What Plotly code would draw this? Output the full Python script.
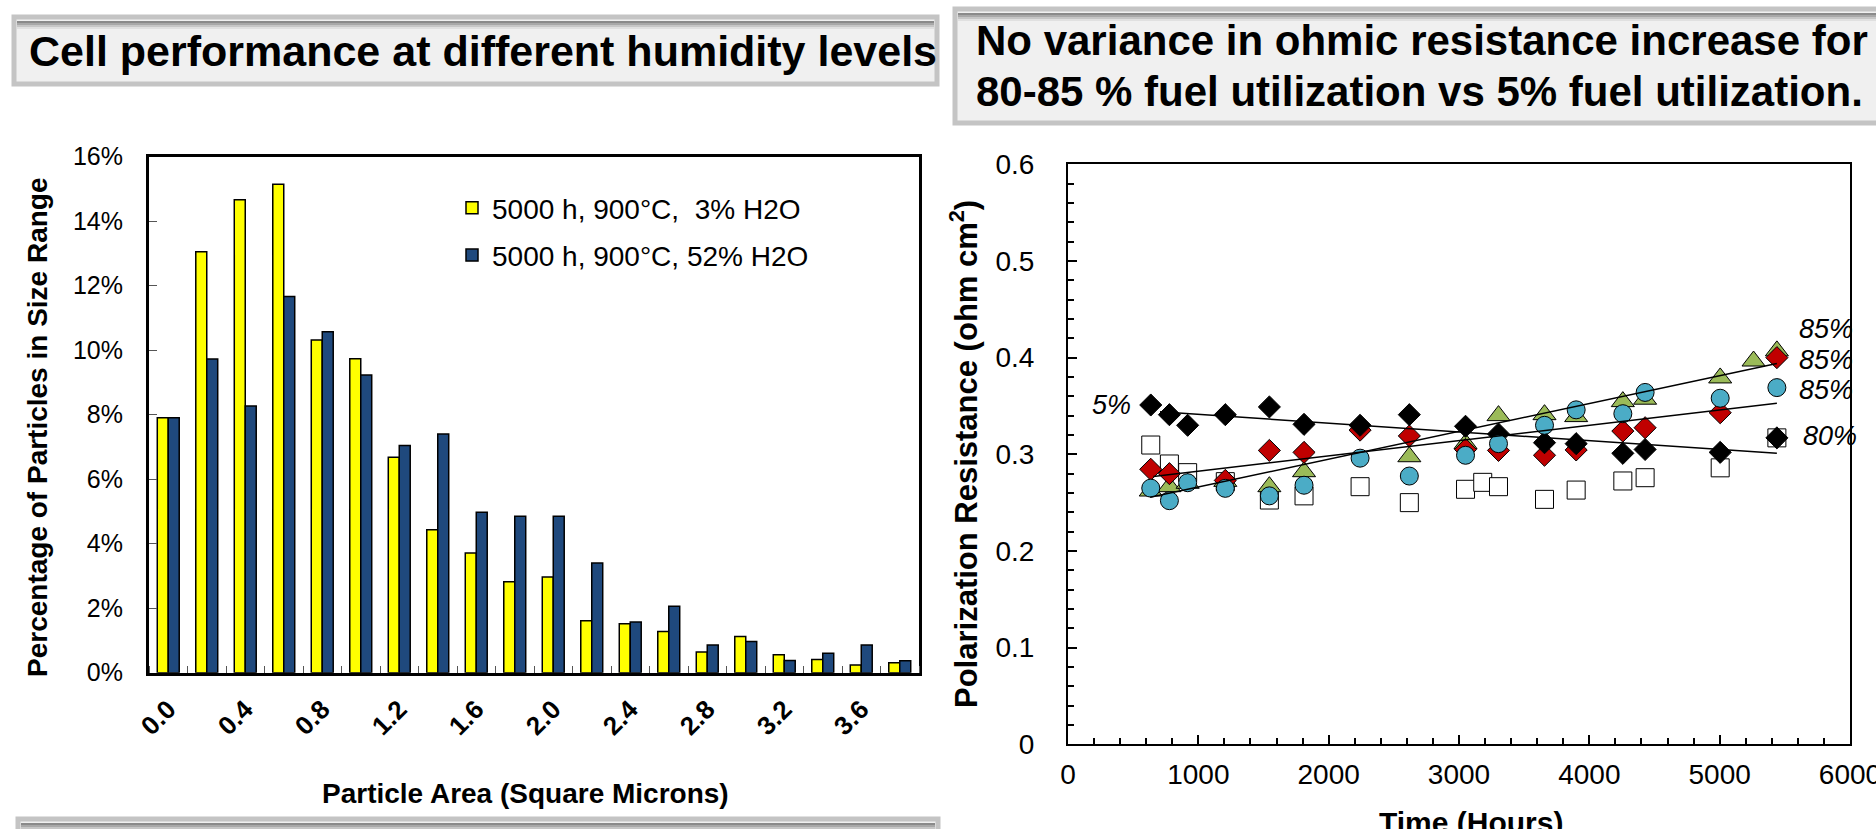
import plotly.graph_objects as go

W, H = 1876, 829
FONT = "Liberation Sans, Arial, Helvetica, sans-serif"

# ---------------- Left chart data (particle size distribution) ----------------
particle_area = [0.0, 0.2, 0.4, 0.6, 0.8, 1.0, 1.2, 1.4, 1.6, 1.8,
                 2.0, 2.2, 2.4, 2.6, 2.8, 3.0, 3.2, 3.4, 3.6, 3.8]
pct_3_h2o = [7.90, 13.05, 14.66, 15.14, 10.31, 9.73, 6.68, 4.43, 3.71, 2.82,
             2.97, 1.61, 1.52, 1.28, 0.64, 1.12, 0.56, 0.41, 0.24, 0.31]
pct_52_h2o = [7.90, 9.72, 8.27, 11.66, 10.57, 9.23, 7.04, 7.40, 4.97, 4.85,
              4.85, 3.40, 1.57, 2.06, 0.86, 0.97, 0.38, 0.60, 0.86, 0.37]
bar_tick_vals = [0.0, 0.4, 0.8, 1.2, 1.6, 2.0, 2.4, 2.8, 3.2, 3.6]
bar_tick_text = ["0.0", "0.4", "0.8", "1.2", "1.6", "2.0", "2.4", "2.8", "3.2", "3.6"]
bar_series_names = ["5000 h, 900°C,  3% H2O", "5000 h, 900°C, 52% H2O"]

# ---------------- Right chart data (polarization resistance vs time) ----------------
t_5pct = [635, 778, 918, 1207, 1545, 1811, 2241, 2619, 3050, 3303, 3656, 3899, 4257, 4428, 5004, 5439]
r_5pct = [0.351, 0.341, 0.330, 0.341, 0.349, 0.331, 0.330, 0.341, 0.329, 0.321, 0.312, 0.311, 0.301, 0.305, 0.302, 0.317]

t_85_red = [635, 778, 1207, 1545, 1811, 2241, 2619, 3050, 3303, 3656, 3899, 4257, 4428, 5004, 5439]
r_85_red = [0.2845, 0.280, 0.273, 0.304, 0.302, 0.325, 0.319, 0.305, 0.304, 0.299, 0.3045, 0.324, 0.3275, 0.343, 0.400]

t_85_green = [635, 778, 918, 1207, 1545, 1811, 2619, 3050, 3303, 3656, 3899, 4257, 4428, 5004, 5260, 5439]
r_85_green = [0.262, 0.2665, 0.270, 0.272, 0.2665, 0.282, 0.2975, 0.311, 0.340, 0.341, 0.339, 0.3545, 0.357, 0.379, 0.3965, 0.407]

t_85_cyan = [635, 778, 918, 1207, 1545, 1811, 2241, 2619, 3050, 3303, 3656, 3899, 4257, 4428, 5004, 5439]
r_85_cyan = [0.265, 0.252, 0.2706, 0.2648, 0.257, 0.268, 0.296, 0.2775, 0.299, 0.311, 0.330, 0.346, 0.342, 0.364, 0.358, 0.369]

t_80_sq = [635, 778, 918, 1207, 1545, 1811, 2241, 2619, 3050, 3182, 3303, 3656, 3899, 4257, 4428, 5004, 5439]
r_80_sq = [0.3096, 0.290, 0.281, 0.2717, 0.2527, 0.257, 0.2665, 0.250, 0.2638, 0.271, 0.2665, 0.2534, 0.263, 0.2724, 0.2758, 0.286, 0.317]

trend_5pct_t = [706, 5439]
trend_5pct_r = [0.344, 0.301]
trend_85a_t = [630, 5439]
trend_85a_r = [0.2555, 0.394]
trend_85b_t = [655, 5439]
trend_85b_r = [0.277, 0.3527]

series_label_text = ["5%", "85%", "85%", "85%", "80%"]
series_label_t = [501, 5592, 5592, 5592, 5623]
series_label_r = [0.351, 0.430, 0.3975, 0.3665, 0.319]
series_label_anchor = ["right", "left", "left", "left", "left"]


def fx(p):
    return p / W


def fy(p):
    return 1 - p / H


fig = go.Figure()

# ---- bars ----
fig.add_trace(go.Bar(x=particle_area, y=pct_3_h2o, name=bar_series_names[0],
                     marker=dict(color="#FFFF00", line=dict(color="#000000", width=1.5)),
                     xaxis="x", yaxis="y", legend="legend", legendgroup="a"))
fig.add_trace(go.Bar(x=particle_area, y=pct_52_h2o, name=bar_series_names[1],
                     marker=dict(color="#1F497D", line=dict(color="#000000", width=1.5)),
                     xaxis="x", yaxis="y", legend="legend", legendgroup="b"))

# ---- scatter markers (bottom to top) ----
mk_line = dict(color="#000000", width=1)
fig.add_trace(go.Scatter(x=t_80_sq, y=r_80_sq, mode="markers", showlegend=False,
                         marker=dict(symbol="square", size=18, color="#FFFFFF", line=mk_line),
                         xaxis="x2", yaxis="y2"))
fig.add_trace(go.Scatter(x=t_85_green, y=r_85_green, mode="markers", showlegend=False,
                         marker=dict(symbol="triangle-up", size=20, color="#9BBB59", line=mk_line),
                         xaxis="x2", yaxis="y2"))
fig.add_trace(go.Scatter(x=t_85_red, y=r_85_red, mode="markers", showlegend=False,
                         marker=dict(symbol="diamond", size=17, color="#C00000", line=mk_line),
                         xaxis="x2", yaxis="y2"))
fig.add_trace(go.Scatter(x=t_5pct, y=r_5pct, mode="markers", showlegend=False,
                         marker=dict(symbol="diamond", size=17, color="#000000", line=mk_line),
                         xaxis="x2", yaxis="y2"))
fig.add_trace(go.Scatter(x=t_85_cyan, y=r_85_cyan, mode="markers", showlegend=False,
                         marker=dict(symbol="circle", size=18, color="#4BACC6", line=mk_line),
                         xaxis="x2", yaxis="y2"))

# ---- trend lines ----
for tt, rr in [(trend_5pct_t, trend_5pct_r), (trend_85a_t, trend_85a_r), (trend_85b_t, trend_85b_r)]:
    fig.add_trace(go.Scatter(x=tt, y=rr, mode="lines", showlegend=False,
                             line=dict(color="#000000", width=1.5),
                             xaxis="x2", yaxis="y2"))

# ---- series labels on right chart ----
for txt, t, r, anc in zip(series_label_text, series_label_t, series_label_r, series_label_anchor):
    fig.add_annotation(x=t, y=r, xref="x2", yref="y2", text="<i>" + txt + "</i>",
                       showarrow=False, xanchor=anc, yanchor="middle", align=anc,
                       font=dict(family=FONT, size=27, color="#000000"))

# ---- title boxes ----
shapes = []


def title_box(x0, y0, x1, y1):
    shapes.append(dict(type="rect", xref="paper", yref="paper",
                       x0=fx(x0), x1=fx(x1), y0=fy(y1), y1=fy(y0),
                       fillcolor="#F0F0F0", line=dict(color="#C4C4C4", width=5), layer="below"))
    # top inner shadow
    for i, col in enumerate(["#8A8A8A", "#A8A8A8", "#C6C6C6", "#E0E0E0"]):
        shapes.append(dict(type="rect", xref="paper", yref="paper",
                           x0=fx(x0 + 3), x1=fx(x1 - 3), y0=fy(y0 + 4 + 2 * (i + 1)), y1=fy(y0 + 4 + 2 * i),
                           fillcolor=col, line=dict(width=0), layer="below"))


title_box(14, 17, 937, 84)
title_box(955, 9, 1900, 123)
title_box(18, 819, 938, 860)

fig.update_layout(shapes=shapes)

fig.add_annotation(x=fx(27), y=fy(50.8), xref="paper", yref="paper", xanchor="left", yanchor="middle",
                   align="left", text="<b>Cell performance at different humidity levels</b>", showarrow=False,
                   font=dict(family=FONT, size=43, color="#000000"))
fig.add_annotation(x=fx(974), y=fy(40.1), xref="paper", yref="paper", xanchor="left", yanchor="middle",
                   align="left", text="<b>No variance in ohmic resistance increase for</b>", showarrow=False,
                   font=dict(family=FONT, size=42, color="#000000"))
fig.add_annotation(x=fx(974), y=fy(91.8), xref="paper", yref="paper", xanchor="left", yanchor="middle",
                   align="left", text="<b>80-85 % fuel utilization vs 5% fuel utilization.</b>", showarrow=False,
                   font=dict(family=FONT, size=42, color="#000000"))

# axis titles as annotations
fig.add_annotation(x=fx(525), y=fy(793.3), xref="paper", yref="paper", xanchor="center", yanchor="middle",
                   text="<b>Particle Area (Square Microns)</b>", showarrow=False,
                   font=dict(family=FONT, size=28, color="#000000"))
fig.add_annotation(x=fx(37), y=fy(427), xref="paper", yref="paper", xanchor="center", yanchor="middle",
                   text="<b>Percentage of Particles in Size Range</b>", showarrow=False, textangle=-90,
                   font=dict(family=FONT, size=28, color="#000000"))
fig.add_annotation(x=fx(964), y=fy(454), xref="paper", yref="paper", xanchor="center", yanchor="middle",
                   text="<b>Polarization Resistance (ohm cm<sup>2</sup>)</b>", showarrow=False, textangle=-90,
                   font=dict(family=FONT, size=31, color="#000000"))
fig.add_annotation(x=fx(1471), y=fy(822.8), xref="paper", yref="paper", xanchor="center", yanchor="middle",
                   text="<b>Time (Hours)</b>", showarrow=False,
                   font=dict(family=FONT, size=30, color="#000000"))

fig.update_layout(
    width=W, height=H,
    margin=dict(l=0, r=0, t=0, b=0, pad=0, autoexpand=False),
    paper_bgcolor="#FFFFFF", plot_bgcolor="#FFFFFF",
    font=dict(family=FONT, color="#000000"),
    barmode="group", bargap=0.43, bargroupgap=0.0,
    xaxis=dict(domain=[fx(149), fx(919)], range=[-0.1, 3.9], anchor="y", automargin=False,
               tickmode="array", tickvals=bar_tick_vals, ticktext=bar_tick_text,
               tickangle=-45, tickfont=dict(family=FONT, size=26, weight="bold"),
               ticks="", showline=True, linecolor="#000000", linewidth=3, mirror=True,
               showgrid=False, zeroline=False, ticklabelstandoff=8,
               minor=dict(tickmode="linear", tick0=0.1, dtick=0.2, ticks="inside", ticklen=7,
                          tickwidth=1, tickcolor="#555555", showgrid=False)),
    yaxis=dict(domain=[fy(672.7), fy(156.5)], range=[0, 16], anchor="x", dtick=2, ticksuffix="%",
               automargin=False,
               tickfont=dict(family=FONT, size=25), ticks="inside", ticklen=8, tickwidth=1,
               tickcolor="#555555", showline=True, linecolor="#000000", linewidth=3, mirror=True,
               showgrid=False, zeroline=False, ticklabelstandoff=18),
    xaxis2=dict(domain=[fx(1068), fx(1850)], range=[0, 6000], anchor="y2", dtick=1000, automargin=False,
                tickfont=dict(family=FONT, size=28), ticks="inside", ticklen=9, tickwidth=1.5,
                tickcolor="#000000", showline=True, linecolor="#000000", linewidth=2, mirror=True,
                showgrid=False, zeroline=False, ticklabelstandoff=4, ticklabeloverflow="allow",
                minor=dict(dtick=200, ticks="inside", ticklen=6, tickwidth=1.5, tickcolor="#000000",
                           showgrid=False)),
    yaxis2=dict(domain=[fy(744.3), fy(164.3)], range=[0, 0.6], anchor="x2", dtick=0.1, automargin=False,
                tickfont=dict(family=FONT, size=28), ticks="inside", ticklen=9, tickwidth=1.5,
                tickcolor="#000000", showline=True, linecolor="#000000", linewidth=2, mirror=True,
                showgrid=False, zeroline=False, ticklabelstandoff=26, ticklabeloverflow="allow",
                minor=dict(dtick=0.02, ticks="inside", ticklen=6, tickwidth=1.5, tickcolor="#000000",
                           showgrid=False)),
    legend=dict(x=fx(452), y=fy(183), xanchor="left", yanchor="top",
                bgcolor="rgba(0,0,0,0)", borderwidth=0, tracegroupgap=8,
                font=dict(family=FONT, size=28, color="#000000")),
)

fig.write_html("out.html")
